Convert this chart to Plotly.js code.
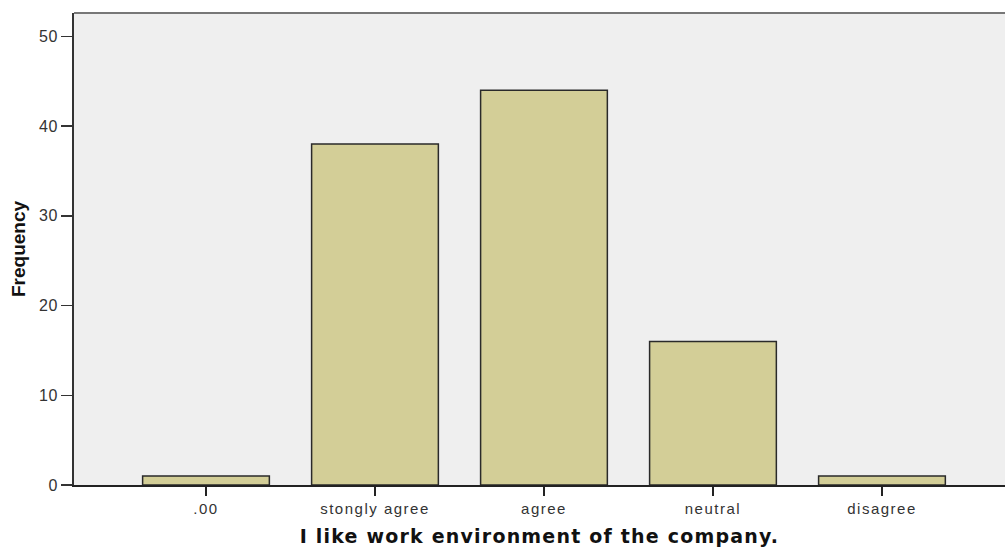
<!DOCTYPE html>
<html>
<head>
<meta charset="utf-8">
<script src="https://cdn.plot.ly/plotly-3.0.1.min.js"></script>
<style>
html,body{margin:0;padding:0;background:#fff;}
#chart{width:1005px;height:548px;}
#chart .xtitle{letter-spacing:1.2px;}
#chart .xtick text{letter-spacing:1.5px;}
#chart .ytick text{letter-spacing:0.5px;}
</style>
</head>
<body>
<div id="chart"></div>
<script>
const categories = [".00", "stongly agree", "agree", "neutral", "disagree"];
const frequencies = [1, 38, 44, 16, 1];
const yTickValues = [0, 10, 20, 30, 40, 50];
const xTitle = "I like work environment of the company.";
const yTitle = "Frequency";

const trace = {
  type: "bar",
  x: categories.map((c, i) => i),
  y: frequencies,
  width: 0.75,
  marker: {color: "#D3CE97", line: {color: "#2a2a2a", width: 1.5}},
  hoverinfo: "x+y"
};

const layout = {
  width: 1005, height: 548,
  margin: {l: 74, r: 0, t: 13, b: 63},
  paper_bgcolor: "#ffffff",
  plot_bgcolor: "#EFEFEF",
  showlegend: false,
  bargap: 0.25,
  xaxis: {
    range: [-0.781, 4.728],
    tickmode: "array",
    tickvals: categories.map((c, i) => i),
    ticktext: categories,
    ticks: "outside", ticklen: 9, tickwidth: 1.5, tickcolor: "#222",
    showline: true, linecolor: "#222", linewidth: 1.5,
    showgrid: false, zeroline: false,
    tickfont: {family: "Liberation Sans, Arial, sans-serif", size: 15, color: "#333"},
    title: {text: xTitle, standoff: 14,
      font: {family: "DejaVu Sans, Verdana, sans-serif", size: 19, color: "#111", weight: "bold"}}
  },
  yaxis: {
    range: [0, 52.6],
    tickmode: "array",
    tickvals: yTickValues,
    ticks: "outside", ticklen: 11, tickwidth: 1.5, tickcolor: "#333",
    showline: true, linecolor: "#333", linewidth: 2,
    showgrid: false, zeroline: false,
    tickfont: {family: "Liberation Sans, Arial, sans-serif", size: 16, color: "#333"},
    title: {text: yTitle, standoff: 9,
      font: {family: "Liberation Sans, Arial, sans-serif", size: 19, color: "#111", weight: "bold"}}
  },
  shapes: [
    {type: "line", xref: "paper", yref: "paper", x0: 0, x1: 1, y0: 1, y1: 1,
     line: {color: "#777", width: 2}}
  ]
};

Plotly.newPlot("chart", [trace], layout, {displayModeBar: false, staticPlot: true});
</script>
</body>
</html>
